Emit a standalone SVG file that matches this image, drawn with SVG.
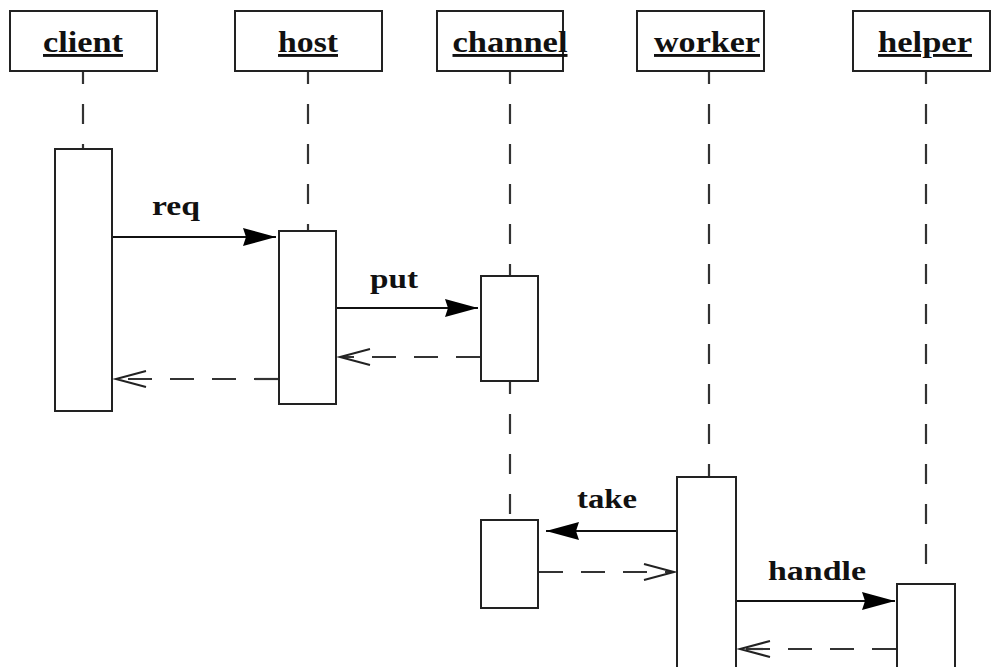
<svg xmlns="http://www.w3.org/2000/svg" width="991" height="667" viewBox="0 0 991 667">
<style>
.box{fill:#fff;stroke:#222;stroke-width:2}
.life{stroke:#333;stroke-width:2.2;stroke-dasharray:20 20;fill:none}
.msg{stroke:#111;stroke-width:2;fill:none}
.ret{stroke:#333;stroke-width:2.2;stroke-dasharray:24 18;fill:none}
.hdr{font-family:"Liberation Serif",serif;font-weight:bold;font-size:29px;text-decoration:underline;fill:#111}
.lbl{font-family:"Liberation Serif",serif;font-weight:bold;font-size:28px;fill:#111}
</style>
<defs>
<marker id="filled" markerUnits="userSpaceOnUse" markerWidth="36" markerHeight="20" refX="33" refY="9" orient="auto" overflow="visible">
<path d="M0,0 L33,9 L0,18 L3,9 z" fill="#000" stroke="none"/>
</marker>
<marker id="open" markerUnits="userSpaceOnUse" markerWidth="32" markerHeight="18" refX="30" refY="8" orient="auto" overflow="visible">
<path d="M0,0 L30,8 L0,16" fill="none" stroke="#222" stroke-width="2"/>
</marker>
</defs>
<rect width="991" height="667" fill="#fff"/>
<g id="lifelines">
<line class="life" x1="83" y1="71" x2="83" y2="149" stroke-dashoffset="7"/>
<line class="life" x1="308" y1="71" x2="308" y2="231" stroke-dashoffset="7"/>
<line class="life" x1="510" y1="71" x2="510" y2="276" stroke-dashoffset="7"/>
<line class="life" x1="510" y1="381" x2="510" y2="520" stroke-dashoffset="7"/>
<line class="life" x1="709" y1="71" x2="709" y2="477" stroke-dashoffset="7"/>
<line class="life" x1="926" y1="71" x2="926" y2="584" stroke-dashoffset="7"/>
</g>
<g id="client">
<rect class="box" x="10" y="11" width="147" height="60"/>
<text class="hdr" x="83" y="52" text-anchor="middle" textLength="80" lengthAdjust="spacingAndGlyphs">client</text>
<rect class="box" x="55" y="149" width="57" height="262"/>
</g>
<g id="host">
<rect class="box" x="235" y="11" width="147" height="60"/>
<text class="hdr" x="308" y="52" text-anchor="middle" textLength="60" lengthAdjust="spacingAndGlyphs">host</text>
<rect class="box" x="279" y="231" width="57" height="173"/>
</g>
<g id="channel">
<rect class="box" x="437" y="11" width="126" height="60"/>
<text class="hdr" x="510" y="52" text-anchor="middle" textLength="115" lengthAdjust="spacingAndGlyphs">channel</text>
<rect class="box" x="481" y="276" width="57" height="105"/>
<rect class="box" x="481" y="520" width="57" height="88"/>
</g>
<g id="worker">
<rect class="box" x="637" y="11" width="127" height="60"/>
<text class="hdr" x="707" y="52" text-anchor="middle" textLength="106" lengthAdjust="spacingAndGlyphs">worker</text>
<rect class="box" x="677" y="477" width="59" height="210"/>
</g>
<g id="helper">
<rect class="box" x="853" y="11" width="137" height="60"/>
<text class="hdr" x="925" y="52" text-anchor="middle" textLength="94" lengthAdjust="spacingAndGlyphs">helper</text>
<rect class="box" x="897" y="584" width="58" height="103"/>
</g>
<g id="connectors">
<line class="msg" x1="113" y1="237" x2="276" y2="237" marker-end="url(#filled)"/>
<text class="lbl" x="176" y="215" text-anchor="middle" textLength="48" lengthAdjust="spacingAndGlyphs">req</text>
<line class="msg" x1="337" y1="308" x2="478" y2="308" marker-end="url(#filled)"/>
<text class="lbl" x="394" y="288" text-anchor="middle" textLength="48" lengthAdjust="spacingAndGlyphs">put</text>
<line class="ret" x1="480" y1="357" x2="340" y2="357" marker-end="url(#open)"/>
<line class="ret" x1="278" y1="379" x2="116" y2="379" marker-end="url(#open)"/>
<line class="msg" x1="676" y1="531" x2="546" y2="531" marker-end="url(#filled)"/>
<text class="lbl" x="607" y="508" text-anchor="middle" textLength="60" lengthAdjust="spacingAndGlyphs">take</text>
<line class="ret" x1="539" y1="572" x2="674" y2="572" marker-end="url(#open)"/>
<line class="msg" x1="737" y1="601" x2="895" y2="601" marker-end="url(#filled)"/>
<text class="lbl" x="817" y="580" text-anchor="middle" textLength="98" lengthAdjust="spacingAndGlyphs">handle</text>
<line class="ret" x1="896" y1="649" x2="740" y2="649" marker-end="url(#open)"/>
</g>
</svg>
